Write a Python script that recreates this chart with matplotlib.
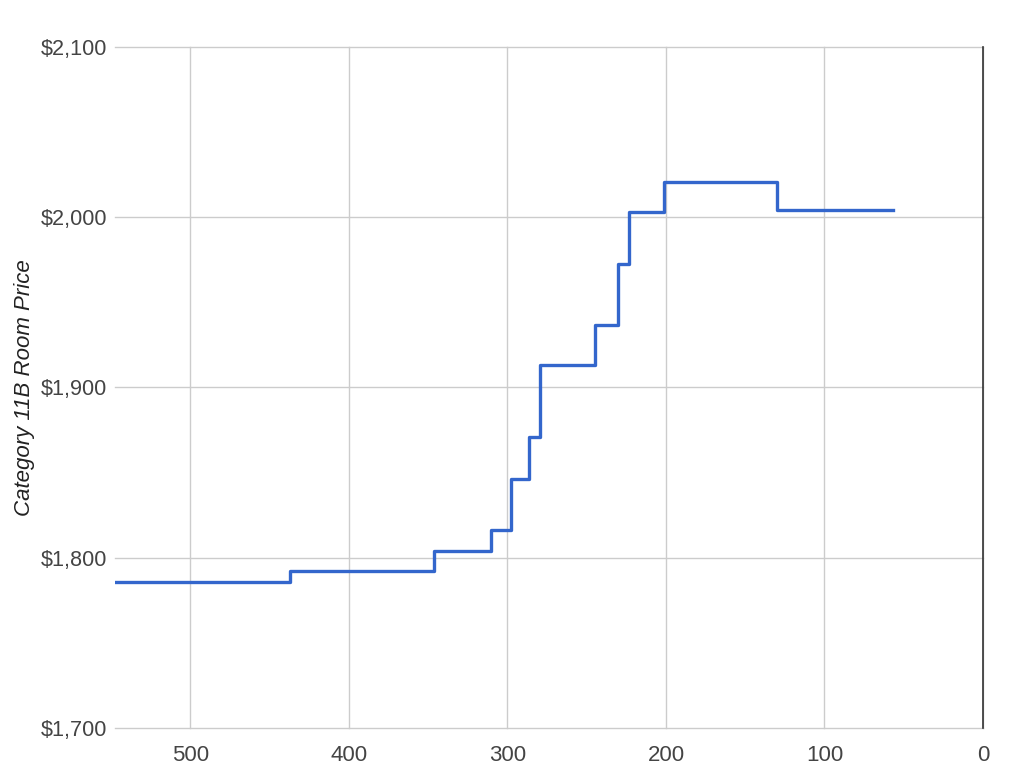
import matplotlib.pyplot as plt
from matplotlib.ticker import FuncFormatter

plt.rcParams["font.family"] = ["Liberation Sans", "DejaVu Sans"]

# days before sailing (where the price changed) and room price
days = [548, 437, 346.5, 310.5, 297.5, 286.5, 279.5, 244.5, 230, 223.5, 201.5, 129.7, 57]
price = [1786, 1792, 1804, 1816.5, 1846, 1871, 1913, 1937, 1972.5, 2003, 2020.5, 2004, 2004]

x_ticks = [500, 400, 300, 200, 100, 0]
y_ticks = [1700, 1800, 1900, 2000, 2100]

fig = plt.figure(figsize=(10.24, 7.68), dpi=100)
ax = fig.add_axes([0.1123, 0.0521, 0.8477, 0.8867])

ax.step(days, price, where="post", color="#3366CC", linewidth=2.4, zorder=3)

ax.set_xlim(547.5, 0)
ax.set_ylim(1700, 2100)
ax.set_xticks(x_ticks)
ax.set_yticks(y_ticks)
ax.yaxis.set_major_formatter(FuncFormatter(lambda v, p: "${:,.0f}".format(v)))

ax.grid(True, color="#cccccc", linewidth=1.0)
ax.set_axisbelow(True)
for gl in ax.get_ygridlines() + ax.get_xgridlines():
    gl.set_clip_on(False)
for s in ax.spines.values():
    s.set_visible(False)
ax.axvline(0, color="#333333", linewidth=1.2, zorder=2, clip_on=False)

ax.tick_params(length=0, labelsize=16, labelcolor="#444444")
ax.tick_params(axis="x", pad=12)
ax.tick_params(axis="y", pad=5.5, labelsize=15.6)

ax.set_ylabel("Category 11B Room Price", fontsize=16, style="italic", color="#222222")
ax.yaxis.set_label_coords(-0.092, 0.5)

fig.savefig("out.png", dpi=100)
